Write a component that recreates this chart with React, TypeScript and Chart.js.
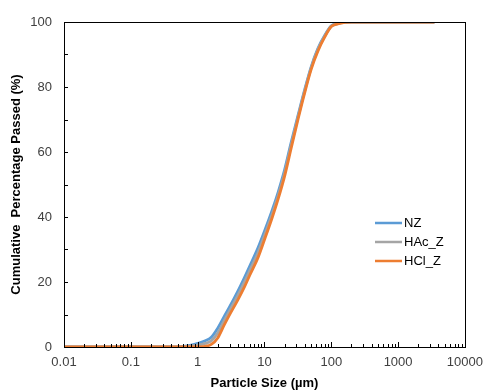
import React, { useEffect, useRef } from "react";
import { Chart, registerables } from "chart.js";

Chart.register(...registerables);

const sizes = [0.01, 0.1, 0.4, 0.6, 0.8, 1, 1.3, 1.6, 2, 2.5, 3, 4, 5, 6, 8, 10, 13, 16, 20, 25, 32, 40, 50, 63, 80, 100, 125, 160, 200, 500, 1000, 2000, 3500];

const nz =   [0, 0, 0, 0.2, 0.6, 1.1, 1.9, 3.0, 5.8, 9.4, 12.3, 17.2, 21.3, 24.8, 30.5, 35.6, 42.0, 47.6, 54.5, 62.8, 71.5, 79.2, 86.2, 91.8, 95.9, 98.8, 99.6, 99.9, 100, 100, 100, 100, 100];
const hacZ = [0, 0, 0, 0.1, 0.3, 0.6, 1.1, 1.9, 4.3, 8.1, 11.1, 15.9, 19.9, 23.4, 29.0, 34.3, 40.8, 46.5, 53.5, 62.0, 71.0, 78.8, 85.9, 91.5, 95.7, 98.7, 99.5, 99.9, 100, 100, 100, 100, 100];
const hclZ = [0, 0, 0, 0, 0, 0.05, 0.2, 0.8, 2.8, 6.8, 9.9, 14.5, 18.4, 22.0, 27.5, 33.0, 39.7, 45.5, 52.5, 61.0, 70.3, 78.2, 85.4, 91.0, 95.4, 98.6, 99.4, 99.85, 100, 100, 100, 100, 100];

const seriesNames = ["NZ", "HAc_Z", "HCl_Z"];
const seriesColors = ["#5B9BD5", "#A5A5A5", "#ED7D31"];
const xTickValues = [0.01, 0.1, 1, 10, 100, 1000, 10000];
const xTickLabels = ["0.01", "0.1", "1", "10", "100", "1000", "10000"];
const yTickValues = [0, 20, 40, 60, 80, 100];

const FONT = "'Liberation Sans', Arial, sans-serif";

const framePlugin = {
  id: "frame",
  afterDatasetsDraw(chart: any) {
    const { ctx, chartArea, scales } = chart;
    const xs = scales.x;
    const ys = scales.y;
    ctx.save();
    ctx.strokeStyle = "#000";
    ctx.lineWidth = 1;
    ctx.beginPath();
    for (let e = -2; e <= 4; e++) {
      for (let m = 1; m <= 9; m++) {
        const v = m * Math.pow(10, e);
        if (v > 10000) break;
        const px = Math.round(xs.getPixelForValue(v)) + 0.5;
        const len = m === 1 ? 5 : 3;
        ctx.moveTo(px, chartArea.bottom);
        ctx.lineTo(px, chartArea.bottom - len);
      }
    }
    for (let v = 0; v <= 100; v += 10) {
      const py = Math.round(ys.getPixelForValue(v)) + 0.5;
      ctx.moveTo(chartArea.left, py);
      ctx.lineTo(chartArea.left + 4, py);
    }
    ctx.stroke();
    ctx.strokeRect(
      Math.round(chartArea.left) + 0.5,
      Math.round(chartArea.top) + 0.5,
      Math.round(chartArea.right - chartArea.left),
      Math.round(chartArea.bottom - chartArea.top)
    );
    ctx.restore();
  },
  afterDraw(chart: any) {
    const { ctx } = chart;
    ctx.save();
    ctx.font = `13px ${FONT}`;
    ctx.textBaseline = "middle";
    const lx = 375;
    const ly = 223;
    seriesNames.forEach((name, i) => {
      const y = ly + i * 19;
      ctx.strokeStyle = seriesColors[i];
      ctx.lineWidth = 2.5;
      ctx.beginPath();
      ctx.moveTo(lx, y);
      ctx.lineTo(lx + 27, y);
      ctx.stroke();
      ctx.fillStyle = "#000";
      ctx.fillText(name, lx + 29, y);
    });
    ctx.restore();
  },
};

export default function App() {
  const ref = useRef<HTMLCanvasElement | null>(null);
  useEffect(() => {
    if (!ref.current) return;
    const series = [nz, hacZ, hclZ];
    const chart = new Chart(ref.current, {
      type: "line",
      data: {
        datasets: series.map((vals, i) => ({
          label: seriesNames[i],
          data: sizes.map((s, j) => ({ x: s, y: vals[j] })),
          borderColor: seriesColors[i],
          backgroundColor: seriesColors[i],
          borderWidth: 2.8,
          pointRadius: 0,
          cubicInterpolationMode: "monotone" as const,
          order: 2 - i,
        })),
      },
      options: {
        animation: false,
        responsive: false,
        devicePixelRatio: 1,
        layout: { padding: { left: 0, top: 22, right: 22, bottom: 0 } },
        plugins: { legend: { display: false }, tooltip: { enabled: false } },
        scales: {
          x: {
            type: "logarithmic",
            min: 0.01,
            max: 10000,
            afterBuildTicks: (scale: any) => {
              scale.ticks = xTickValues.map((v) => ({ value: v }));
            },
            afterFit: (scale: any) => {
              scale.height = 45;
            },
            grid: { display: false, drawTicks: false },
            border: { display: false },
            ticks: {
              autoSkip: false,
              maxRotation: 0,
              padding: 8,
              color: "#404040",
              font: { family: FONT, size: 13 },
              callback: (v: any) => {
                const idx = xTickValues.findIndex((t) => Math.abs(t - Number(v)) < 1e-9 * Math.max(1, t));
                return idx >= 0 ? xTickLabels[idx] : "";
              },
            },
            title: {
              display: true,
              text: "Particle Size (µm)",
              color: "#000",
              font: { family: FONT, size: 13, weight: "bold" },
              padding: { top: 0, bottom: 1 },
            },
          },
          y: {
            type: "linear",
            min: 0,
            max: 100,
            afterBuildTicks: (scale: any) => {
              scale.ticks = yTickValues.map((v) => ({ value: v }));
            },
            afterFit: (scale: any) => {
              scale.width = 64;
            },
            grid: { display: false, drawTicks: false },
            border: { display: false },
            ticks: {
              padding: 12,
              color: "#404040",
              font: { family: FONT, size: 13 },
            },
            title: {
              display: true,
              text: "Cumulative  Percentage Passed (%)",
              color: "#000",
              font: { family: FONT, size: 13, weight: "bold" },
              padding: { top: 9, bottom: 0 },
            },
          },
        },
      },
      plugins: [framePlugin],
    });
    return () => chart.destroy();
  }, []);
  return (
    <div style={{ position: "fixed", left: 0, top: 0, width: 491, height: 392, background: "#fff" }}>
      <canvas ref={ref} width={491} height={392} style={{ width: 491, height: 392 }} />
    </div>
  );
}
